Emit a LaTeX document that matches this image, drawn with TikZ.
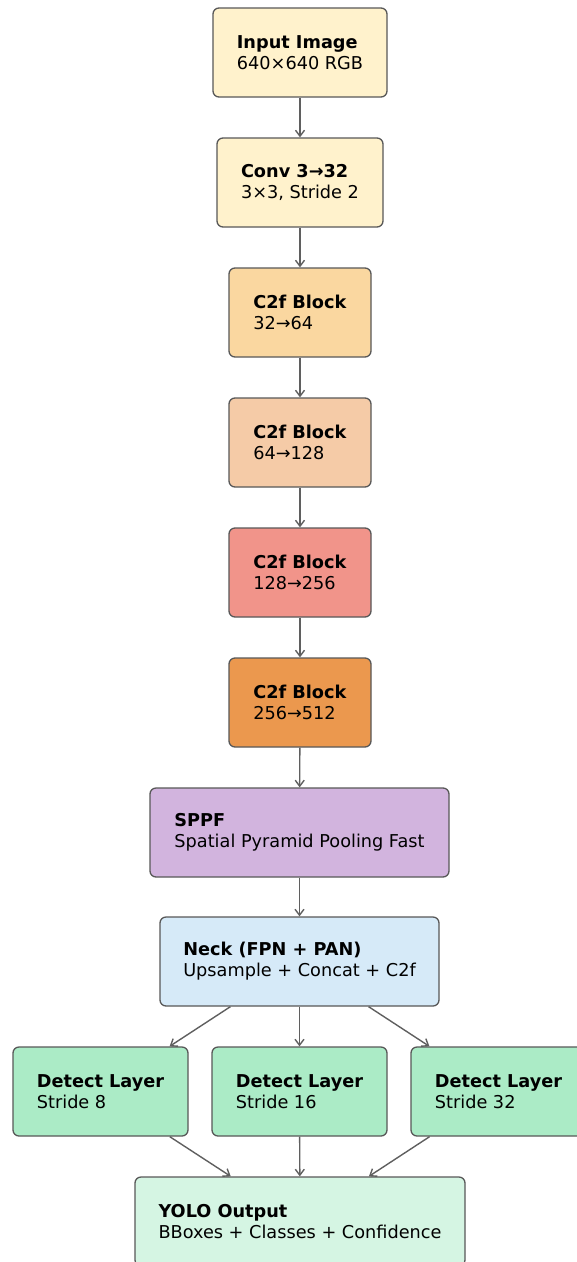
\documentclass[tikz,border=0pt]{standalone}
\usepackage{fontspec}
\setmainfont{DejaVu Sans}
\usetikzlibrary{arrows.meta}
\definecolor{edgegray}{RGB}{88,88,88}
\definecolor{wiregray}{RGB}{95,95,95}
\definecolor{cream}{RGB}{255,242,204}
\definecolor{sand}{RGB}{250,215,160}
\definecolor{peach}{RGB}{245,203,167}
\definecolor{salmon}{RGB}{241,148,138}
\definecolor{amber}{RGB}{235,152,78}
\definecolor{lilac}{RGB}{210,180,222}
\definecolor{skyblue}{RGB}{214,234,248}
\definecolor{mint}{RGB}{171,235,198}
\definecolor{palemint}{RGB}{213,245,227}
\begin{document}
\begin{tikzpicture}[x=1pt,y=-1pt,
  blk/.style={draw=edgegray, line width=1.3pt, rounded corners=6pt,
    minimum height=89pt, inner sep=0pt, align=left,
    font=\fontsize{17.7}{21}\selectfont},
  link/.style={draw=wiregray, line width=1.4pt,
    -{Straight Barb[length=6pt,width=9pt]}}]
\useasboundingbox (0,0) rectangle (577,1262);
\clip (0,0) rectangle (577,1262);

% backbone
\node[blk, fill=cream, minimum width=174pt] (inp) at (300,52.5) {\textbf{Input Image}\\640×640 RGB};
\node[blk, fill=cream, minimum width=166pt] (conv) at (300,182.5) {\textbf{Conv 3→32}\\3×3, Stride 2};
\node[blk, fill=sand, minimum width=142pt] (cA) at (300,312.5) {\textbf{C2f Block}\\32→64};
\node[blk, fill=peach, minimum width=142pt] (cB) at (300,442.5) {\textbf{C2f Block}\\64→128};
\node[blk, fill=salmon, minimum width=142pt] (cC) at (300,572.5) {\textbf{C2f Block}\\128→256};
\node[blk, fill=amber, minimum width=142pt] (cD) at (300,702.5) {\textbf{C2f Block}\\256→512};
\node[blk, fill=lilac, minimum width=299pt] (sppf) at (299.5,832.5) {\textbf{SPPF}\\Spatial Pyramid Pooling Fast};

% neck and heads
\node[blk, fill=skyblue, minimum width=279pt] (neck) at (299.5,961.5) {\textbf{Neck (FPN + PAN)}\\Upsample + Concat + C2f};
\node[blk, fill=mint, minimum width=175pt] (dS) at (100.5,1091.5) {\textbf{Detect Layer}\\Stride 8};
\node[blk, fill=mint, minimum width=175pt] (dM) at (299.5,1091.5) {\textbf{Detect Layer}\\Stride 16};
\node[blk, fill=mint, minimum width=175pt] (dL) at (498.5,1091.5) {\textbf{Detect Layer}\\Stride 32};
\node[blk, fill=palemint, minimum width=330pt] (out) at (300,1221.5) {\textbf{YOLO Output}\\BBoxes + Classes + Confidence};

% connectors
\draw[link] (inp) -- (conv);
\draw[link] (conv) -- (cA);
\draw[link] (cA) -- (cB);
\draw[link] (cB) -- (cC);
\draw[link] (cC) -- (cD);
\draw[link] (cD) -- (sppf);
\draw[link] (sppf) -- (neck);
\draw[link] (neck) -- (dS);
\draw[link] (neck) -- (dM);
\draw[link] (neck) -- (dL);
\draw[link] (dS) -- (out);
\draw[link] (dM) -- (out);
\draw[link] (dL) -- (out);
\end{tikzpicture}
\end{document}
